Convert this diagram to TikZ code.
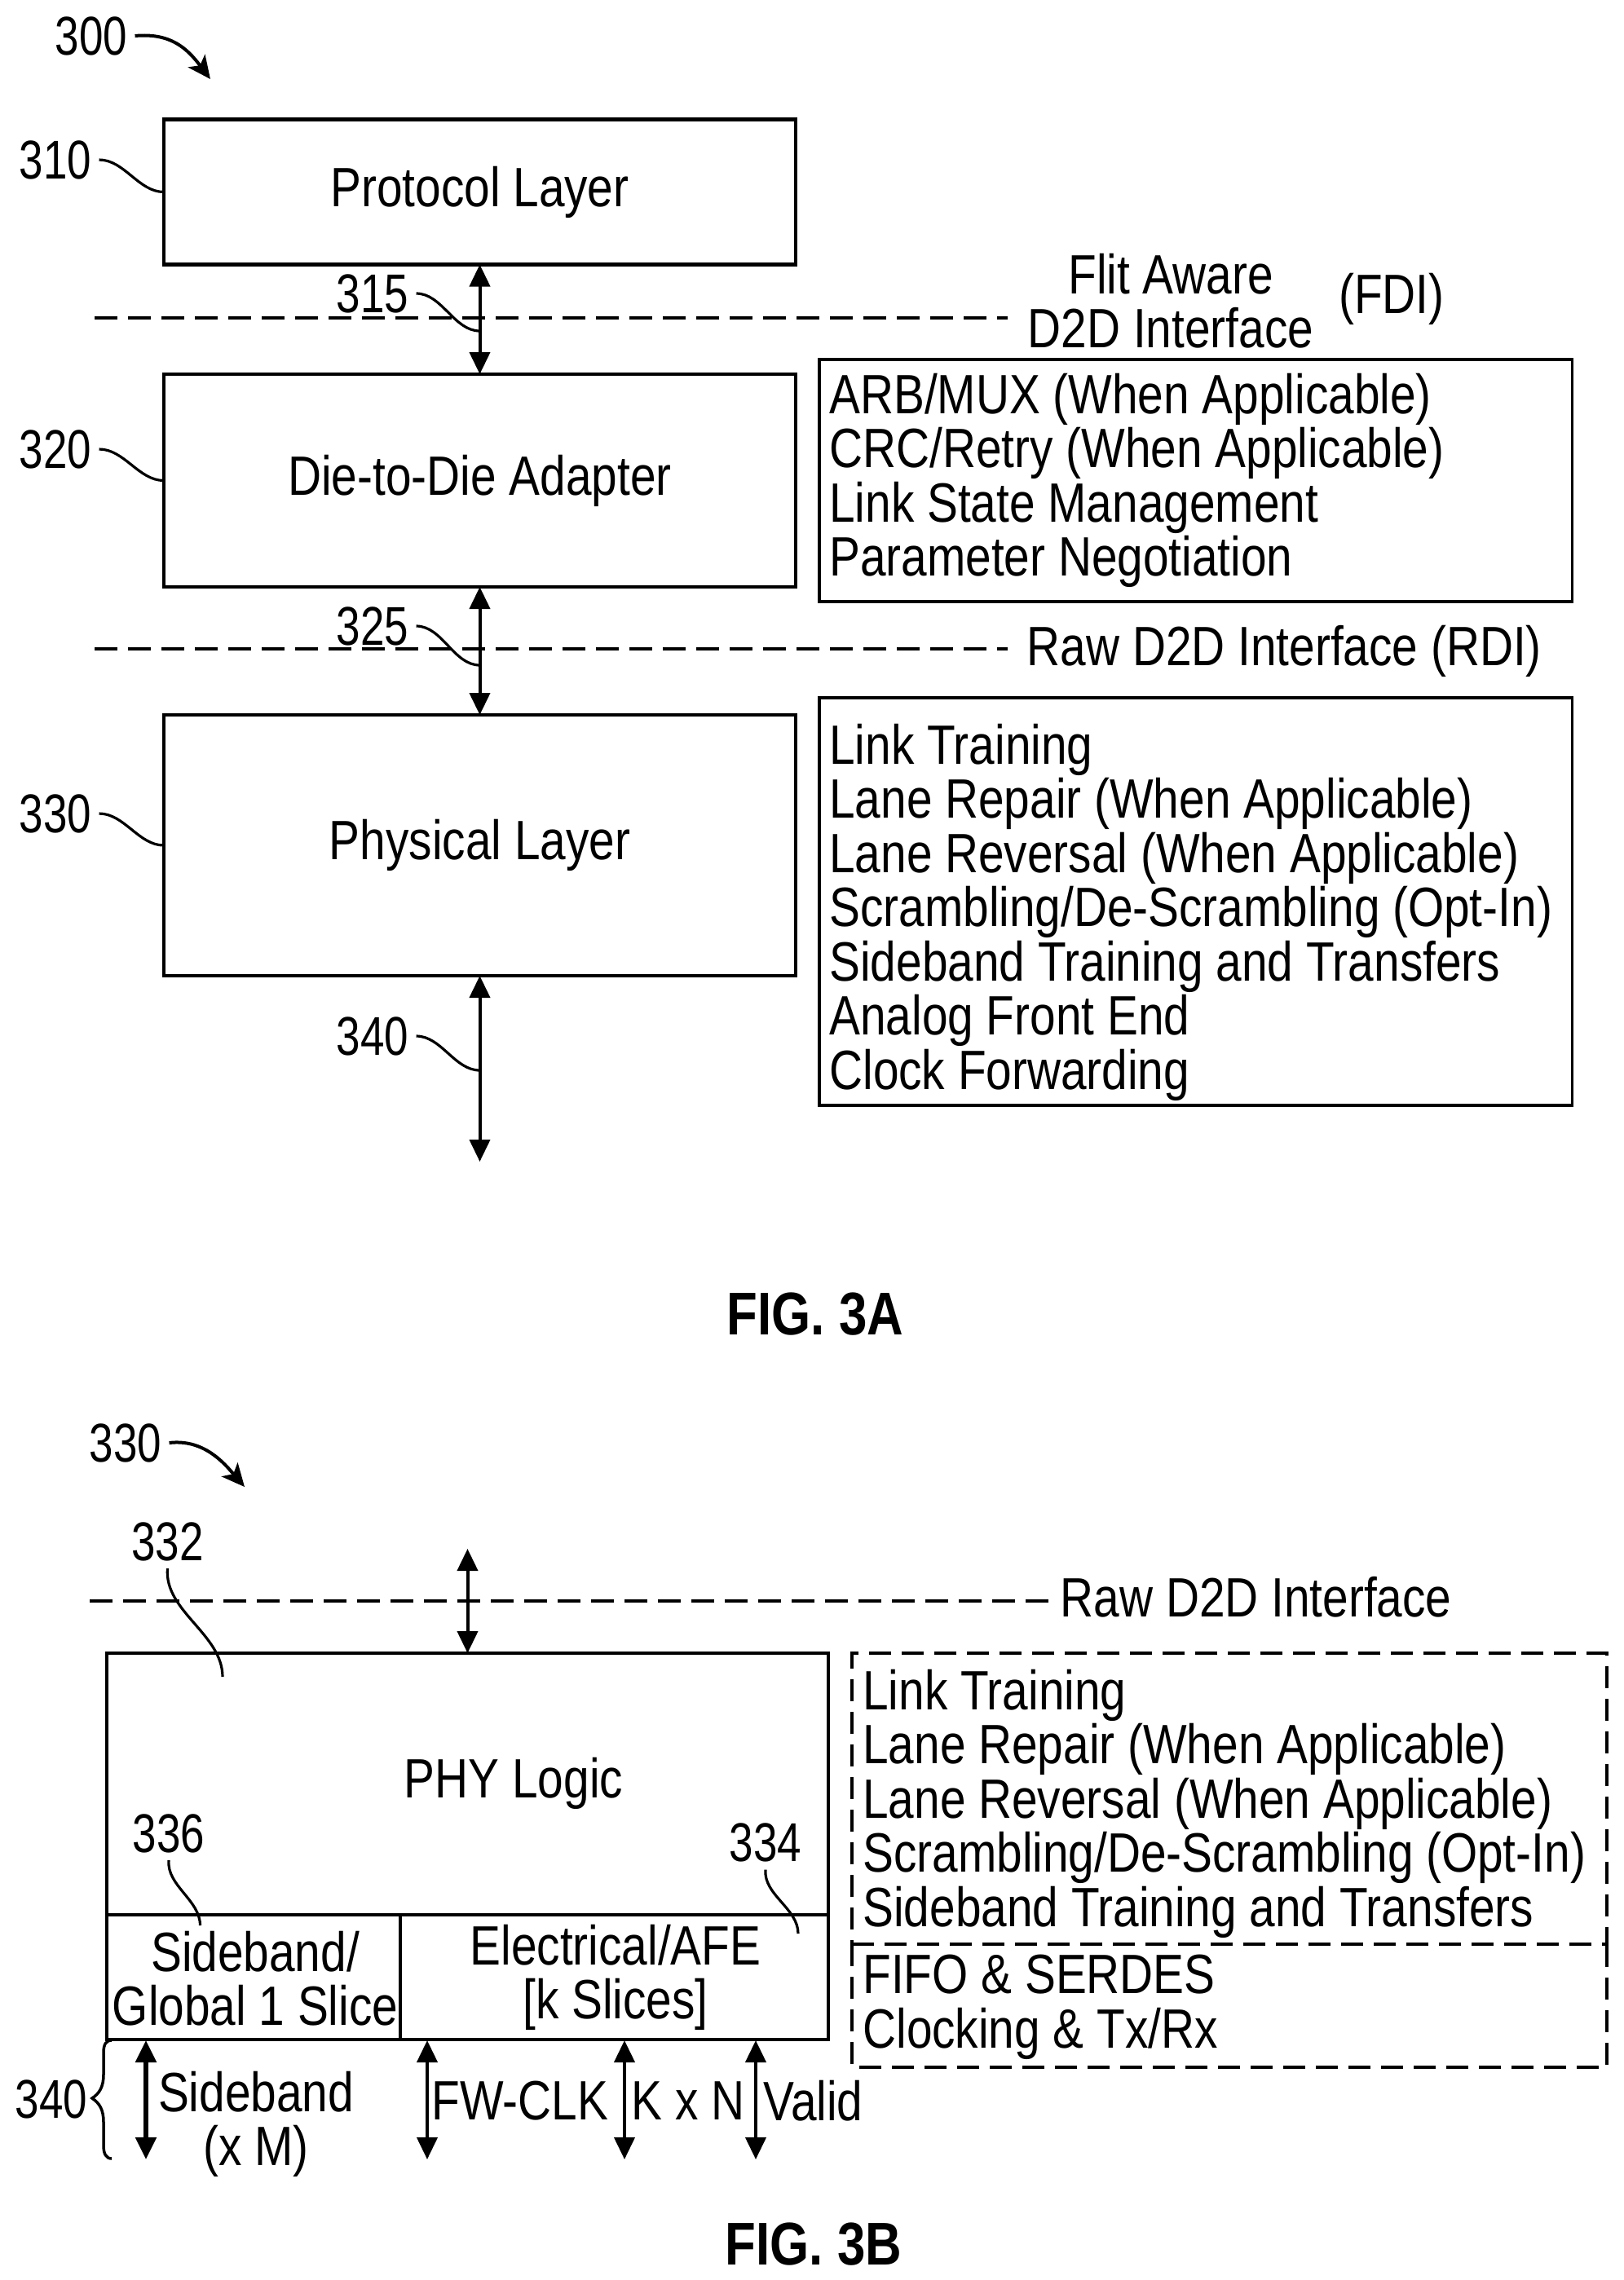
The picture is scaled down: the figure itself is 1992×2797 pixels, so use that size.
\documentclass[tikz,border=0pt]{standalone}
\usepackage{fontspec}
\setmainfont[FakeStretch=0.835]{Liberation Sans}
\newfontfamily\numfam[FakeStretch=0.79]{Liberation Sans}
\usetikzlibrary{arrows.meta}
\newcommand{\bodyfont}{\fontsize{34}{33.25}\selectfont}
\newcommand{\numfont}{\numfam\fontsize{33.5}{34}\selectfont}
\newcommand{\figfont}{\fontsize{37}{40}\selectfont\bfseries}
\tikzset{
  x=0.5pt,y=-0.5pt,
  txt/.style={inner sep=0pt,font=\bodyfont},
  figl/.style={inner sep=0pt,font=\figfont},
  num/.style={inner sep=4.5pt,font=\numfont},
  solidbox/.style={draw,line width=2.25pt,inner sep=0pt,outer sep=0pt,font=\bodyfont,align=center},
  notebox/.style={draw,line width=1.9pt,inner sep=0pt,outer sep=0pt},
  dashline/.style={line width=2pt,dash pattern=on 13.5pt off 6.5pt},
  dashbox/.style={draw,dashline,inner sep=0pt,outer sep=0pt},
  ifline/.style={line width=1.75pt,dash pattern=on 14pt off 6.5pt},
  dbl/.style={line width=2pt,{Triangle[length=13.5pt,width=12.5pt]}-{Triangle[length=13.5pt,width=12.5pt]}},
  lead/.style={line width=1.6pt},
  pointer/.style={line width=2pt,-{Stealth[length=14pt,width=13pt,inset=3.5pt]}},
}
\lineskiplimit=-20pt
\begin{document}
\begin{tikzpicture}
\useasboundingbox (0,0) rectangle (1992,2797);
% FIG 3A
\node[solidbox,minimum width=387.5pt,minimum height=89pt] (protocol) at (588.5,235.5) {Protocol Layer};
\node[solidbox,minimum width=387.5pt,minimum height=130.5pt] (adapter) at (588.5,589.5) {Die-to-Die Adapter};
\node[solidbox,minimum width=387.5pt,minimum height=160pt] (physical) at (588.5,1037) {Physical Layer};
\node[notebox,minimum width=461.75pt,minimum height=148.5pt] (notea) at (1466.75,589.5) {};
\node[notebox,minimum width=461.75pt,minimum height=250pt] (noteb) at (1466.75,1106) {};
\node[txt,align=left,anchor=west] (noteatext) at (1017,589.5) {ARB/MUX (When Applicable)\\CRC/Retry (When Applicable)\\Link State Management\\Parameter Negotiation};
\node[txt,align=left,anchor=west] (notebtext) at (1017,1119) {Link Training\\Lane Repair (When Applicable)\\Lane Reversal (When Applicable)\\Scrambling/De-Scrambling (Opt-In)\\Sideband Training and Transfers\\Analog Front End\\Clock Forwarding};
\node[txt,align=center] (fdia) at (1436,369) {Flit Aware\\D2D Interface};
\node[txt] (fdib) at (1707,366.5) {(FDI)};
\node[txt,anchor=west] (rdi) at (1259.5,798.5) {Raw D2D Interface (RDI)};
\coordinate (d1a) at (116,390);
\coordinate (d1b) at (1236,390);
\coordinate (d2a) at (116,796);
\coordinate (d2b) at (1236,796);
\draw[ifline] (d1a) -- (d1b);
\draw[ifline] (d2a) -- (d2b);
\draw[dbl] (protocol.south) -- (adapter.north);
\draw[dbl] (adapter.south) -- (physical.north);
\coordinate (bottom) at (588.5,1425);
\draw[dbl] (physical.south) -- (bottom);
\node[num] (l300) at (112,44) {300};
\coordinate (t300) at (258,97);
\draw[pointer] (l300.east) .. controls (210,40) and (230,60) .. (t300);
\node[num] (l310) at (68,196) {310};
\node[num] (l320) at (68,551) {320};
\node[num] (l330) at (68,998) {330};
\draw[lead] (l310.east) to[out=0,in=180,looseness=0.9] (protocol.west);
\draw[lead] (l320.east) to[out=0,in=180,looseness=0.9] (adapter.west);
\draw[lead] (l330.east) to[out=0,in=180,looseness=0.9] (physical.west);
\node[num] (l315) at (457,360) {315};
\node[num] (l325) at (457,768) {325};
\node[num] (l340a) at (457,1271) {340};
\coordinate (c315) at (588.5,406);
\coordinate (c325) at (588.5,816);
\coordinate (c340) at (588.5,1313);
\draw[lead] (l315.east) to[out=0,in=180,looseness=0.9] (c315);
\draw[lead] (l325.east) to[out=0,in=180,looseness=0.9] (c325);
\draw[lead] (l340a.east) to[out=0,in=180,looseness=0.9] (c340);
\node[figl] (fig3a) at (1000,1612) {FIG. 3A};
% FIG 3B
\node[num] (l330b) at (154,1770) {330};
\coordinate (t330) at (300,1824);
\draw[pointer] (l330b.east) .. controls (250,1765) and (275,1795) .. (t330);
\node[solidbox,line width=2pt,minimum width=442.5pt,minimum height=160.5pt] (phy) at (573.5,2188.5) {};
\node[solidbox,line width=2pt,minimum width=180pt,minimum height=76.5pt] (side) at (311,2425.5) {};
\node[solidbox,line width=2pt,minimum width=262.5pt,minimum height=76.5pt] (elec) at (753.5,2425.5) {};
\node[txt] (phytext) at (630,2188) {PHY Logic};
\node[txt,align=center] (sidetext) at (313,2427) {Sideband/\\Global 1 Slice};
\node[txt,align=center] (electext) at (755,2426) {Electrical/AFE\\{[k Slices]}};
\node[dashbox,minimum width=462.75pt,minimum height=178.5pt] (notec) at (1507.75,2206.5) {};
\node[inner sep=0pt,outer sep=0pt,minimum width=462.75pt,minimum height=75.5pt] (noted) at (1507.75,2460.5) {};
\draw[dashline] (noted.north west) -- (noted.south west) -- (noted.south east) -- (noted.north east);
\node[txt,align=left,anchor=west] (notectext) at (1058,2212.5) {Link Training\\Lane Repair (When Applicable)\\Lane Reversal (When Applicable)\\Scrambling/De-Scrambling (Opt-In)\\Sideband Training and Transfers};
\node[txt,align=left,anchor=west] (notedtext) at (1058,2462.5) {FIFO \& SERDES\\Clocking \& Tx/Rx};
\coordinate (d3a) at (110,1964);
\coordinate (d3b) at (1286,1964);
\draw[ifline] (d3a) -- (d3b);
\node[txt,anchor=west] (rawb) at (1300.5,1959.5) {Raw D2D Interface};
\coordinate (topb) at (573.5,1900);
\draw[dbl] (topb) -- (phy.north);
\node[num] (l332) at (205.5,1891) {332};
\node[num] (l336) at (207,2249) {336};
\node[num] (l334) at (939,2260.5) {334};
\coordinate (c332) at (273,2057);
\coordinate (c336) at (245.5,2362);
\coordinate (c334) at (979,2372);
\draw[lead] (l332.south) to[out=-95,in=90,looseness=0.9] (c332);
\draw[lead] (l336.south) to[out=-95,in=90,looseness=0.9] (c336);
\draw[lead] (l334.south) to[out=-95,in=90,looseness=0.9] (c334);
\coordinate (a1) at (179,2503);
\coordinate (a1b) at (179,2649);
\coordinate (a2) at (524,2503);
\coordinate (a2b) at (524,2649);
\coordinate (a3) at (766,2503);
\coordinate (a3b) at (766,2649);
\coordinate (a4) at (927,2503);
\coordinate (a4b) at (927,2649);
\draw[dbl,line width=2.75pt] (a1) -- (a1b);
\draw[dbl] (a2) -- (a2b);
\draw[dbl] (a3) -- (a3b);
\draw[dbl] (a4) -- (a4b);
\node[txt,align=center] (sbtext) at (314,2606) {Sideband\\(x M)};
\node[txt,anchor=west] (fwclk) at (529,2577.5) {FW-CLK};
\node[txt,anchor=west] (kxn) at (774,2577.5) {K x N};
\node[txt,anchor=west] (valid) at (936,2577.5) {Valid};
\node[num] (l340b) at (63,2575) {340};
\draw[line width=1.75pt] (137,2503) .. controls (130,2503) and (127,2508) .. (127,2518) -- (127,2545) .. controls (127,2560) and (122,2568) .. (113,2574) .. controls (122,2580) and (127,2588) .. (127,2603) -- (127,2632) .. controls (127,2642) and (130,2648) .. (137,2648);
\node[figl] (fig3b) at (998,2753) {FIG. 3B};
\end{tikzpicture}
\end{document}
